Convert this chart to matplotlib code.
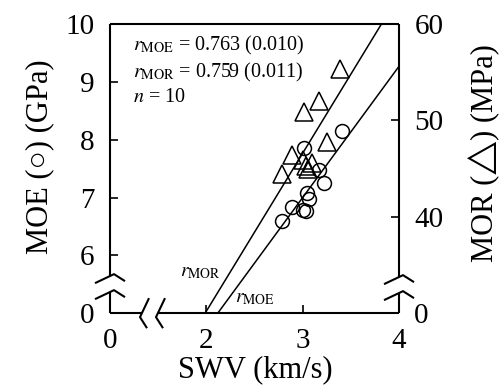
import numpy as np
import matplotlib.pyplot as plt

plt.rcParams['font.family'] = ['Liberation Serif', 'STIXGeneral', 'DejaVu Sans']
plt.rcParams['mathtext.fontset'] = 'stix'

# data (SWV in km/s, MOE in GPa, MOR in MPa); axis is broken, so the
# lowest tick ("0") sits at 1 km/s, 5 GPa and 30 MPa on the drawn scale
swv_moe = [2.79, 2.89, 3.00, 3.03, 3.05, 3.07, 3.22, 3.17, 3.01, 3.41]
moe = [6.59, 6.83, 6.78, 6.76, 7.07, 6.97, 7.25, 7.47, 7.86, 8.15]
swv_mor = [3.39, 3.17, 3.01, 3.25, 2.89, 2.79, 3.00, 3.03, 3.06, 3.10]
mor = [55.3, 52.0, 50.9, 47.8, 46.4, 44.4, 45.9, 45.3, 45.0, 45.6]

moe_fit = (0.19, 2.27)   # intercept, slope
mor_fit = (-2.6, 16.4)

x_ticks = [1, 2, 3, 4]
x_labels = ['0', '2', '3', '4']
moe_ticks = [5, 6, 7, 8, 9, 10]
moe_labels = ['0', '6', '7', '8', '9', '10']
mor_ticks = [30, 40, 50, 60]
mor_labels = ['0', '40', '50', '60']

fig = plt.figure(figsize=(5, 3.89), dpi=100)
ax = fig.add_axes([0.22, 0.195, 0.578, 0.743])
ax2 = ax.twinx()

xs = np.array([1.0, 4.0])
ax.plot(xs, moe_fit[0] + moe_fit[1] * xs, color='k', lw=1.1)
ax2.plot(xs, mor_fit[0] + mor_fit[1] * xs, color='k', lw=1.1)
ax.plot(swv_moe, moe, 'o', ms=10, mfc='none', mec='k', mew=1.1)
ax2.plot(swv_mor, mor, '^', ms=13.5, mfc='none', mec='k', mew=1.1)

ax.set_xlim(1, 4)
ax.set_ylim(5, 10)
ax2.set_ylim(30, 60)
ax.set_xticks(x_ticks, x_labels)
ax.set_yticks(moe_ticks, moe_labels)
ax2.set_yticks(mor_ticks, mor_labels)
ax.tick_params(direction='in', length=6, width=1.2, labelsize=21, pad=11)
ax2.tick_params(direction='in', length=6, width=1.2, labelsize=21, pad=11)

for a in (ax, ax2):
    for s in a.spines.values():
        s.set_visible(False)

# frame with break marks
px = 1 / 289.0
kw = dict(color='k', lw=1.5, transform=ax.transAxes, clip_on=False,
          solid_capstyle='butt')
chev = [(-15, -5), (4, 4), (15, -3)]
yl, yr, xb = 27 * px, 26 * px, 42 * px
ax.plot([0, 0], [0, yl - 6 * px], **kw)
ax.plot([0, 0], [yl + 10 * px, 1], **kw)
ax.plot([1, 1], [0, yr - 6 * px], **kw)
ax.plot([1, 1], [yr + 10 * px, 1], **kw)
ax.plot([0, 1], [1, 1], **kw)
ax.plot([0, xb - 10 * px], [0, 0], **kw)
ax.plot([xb + 6 * px, 1], [0, 0], **kw)
for off in (-8, 8):
    for x0, yc in ((0, yl), (1, yr)):
        ax.plot([x0 + u * px for u, v in chev],
                [yc + (off + v) * px for u, v in chev], **kw)
    ax.plot([xb - (off + v) * px for u, v in chev],
            [-u * px for u, v in chev], **kw)

ax.text(0.08, 0.927, r'$r_{\mathrm{MOE}}$ = 0.763 (0.010)', transform=ax.transAxes,
        fontsize=14.5, va='center')
ax.text(0.08, 0.834, r'$r_{\mathrm{MOR}}$ = 0.759 (0.011)', transform=ax.transAxes,
        fontsize=14.5, va='center')
ax.text(0.08, 0.747, r'$n$ = 10', transform=ax.transAxes, fontsize=14.5, va='center')
ax.text(0.311, 0.142, r'$r_{\mathrm{MOR}}$', transform=ax.transAxes, fontsize=14,
        ha='center', va='center')
ax.text(0.502, 0.052, r'$r_{\mathrm{MOE}}$', transform=ax.transAxes, fontsize=14,
        ha='center', va='center')

fig.text(40 / 500, 1 - 157 / 389, 'MOE (○) (GPa)', rotation=90, fontsize=22,
         ha='center', va='center')
fig.text(483 / 500, 1 - 153 / 389, 'MOR (△) (MPa)', rotation=90, fontsize=22,
         ha='center', va='center')
fig.text(255 / 500, 1 - 370 / 389, 'SWV (km/s)', fontsize=22, ha='center', va='center')

fig.savefig('out.png', dpi=100)
